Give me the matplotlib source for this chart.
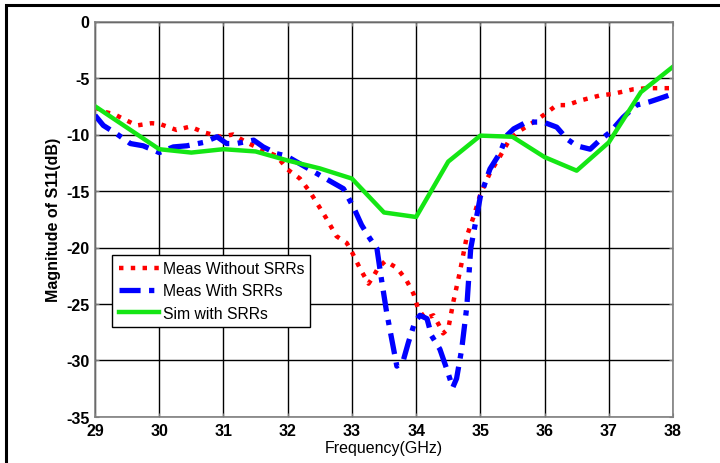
import matplotlib
matplotlib.use("Agg")
import matplotlib.pyplot as plt
from matplotlib.patches import Rectangle

plt.rcParams["axes.unicode_minus"] = False

# S11 magnitude (dB) vs frequency (GHz)
freq_meas_wo = [29.0, 29.15, 29.3, 29.4, 29.65, 29.88, 30.0, 30.27, 30.48, 30.69,
                30.95, 31.15, 31.36, 31.62, 31.83, 32.0, 32.19, 32.35, 32.6, 32.76,
                32.92, 33.0, 33.13, 33.26, 33.34, 33.41, 33.52, 33.7, 33.85, 33.96,
                34.03, 34.14, 34.27, 34.35, 34.42, 34.5, 34.58, 34.68, 34.79, 34.9,
                35.0, 35.15, 35.31, 35.46, 35.62, 35.83, 35.98, 36.19, 36.35, 36.55,
                36.86, 37.07, 37.38, 37.6, 37.8, 38.0]
s11_meas_wo = [-7.6, -8.0, -8.2, -8.5, -9.2, -9.0, -9.05, -9.6, -9.3, -9.8,
               -10.2, -10.0, -10.7, -11.4, -11.9, -13.1, -13.9, -15.1, -17.4, -19.0,
               -19.6, -20.4, -21.9, -23.2, -22.5, -21.8, -21.2, -21.8, -22.9, -24.1,
               -25.4, -26.3, -26.0, -26.8, -27.6, -27.2, -24.8, -22.2, -19.0, -17.2,
               -15.3, -13.4, -11.9, -10.4, -9.65, -8.9, -8.3, -7.4, -7.4, -7.0,
               -6.55, -6.4, -6.0, -5.9, -5.9, -5.9]

freq_meas_w = [29.0, 29.13, 29.34, 29.55, 29.75, 30.0, 30.22, 30.43, 30.69, 30.9,
               31.05, 31.2, 31.47, 31.62, 31.83, 31.98, 32.24, 32.56, 32.87, 33.03,
               33.15, 33.28, 33.39, 33.46, 33.54, 33.62, 33.7, 33.8, 33.88, 33.98,
               34.06, 34.17, 34.24, 34.37, 34.48, 34.57, 34.63, 34.71, 34.79, 34.85,
               35.0, 35.15, 35.31, 35.41, 35.52, 35.72, 35.98, 36.19, 36.35, 36.5,
               36.71, 36.86, 37.02, 37.22, 37.43, 37.64, 37.85, 38.0]
s11_meas_w = [-8.3, -9.2, -9.95, -10.8, -11.0, -11.6, -11.1, -11.0, -10.7, -10.2,
              -10.8, -10.8, -10.5, -11.1, -11.7, -11.9, -12.75, -13.8, -14.8, -16.5,
              -18.0, -19.2, -20.1, -22.8, -25.7, -28.1, -30.5, -30.0, -28.4, -26.6,
              -26.0, -26.3, -27.8, -29.0, -30.8, -32.4, -31.6, -29.0, -25.2, -20.1,
              -15.5, -13.05, -11.6, -10.1, -9.5, -8.9, -8.9, -9.35, -10.4, -11.0,
              -11.3, -10.5, -9.8, -8.5, -7.4, -7.1, -6.7, -6.4]

freq_sim = [29.0, 29.5, 30.0, 30.5, 31.0, 31.5, 32.0, 32.5, 33.0, 33.5,
            34.0, 34.5, 35.0, 35.5, 36.0, 36.5, 37.0, 37.5, 38.0]
s11_sim = [-7.5, -9.4, -11.3, -11.6, -11.3, -11.5, -12.3, -13.0, -13.9, -16.9,
           -17.3, -12.4, -10.1, -10.2, -12.0, -13.2, -10.7, -6.25, -4.0]

legend_labels = ["Meas Without SRRs", "Meas With SRRs", "Sim with SRRs"]

fig = plt.figure(figsize=(7.2, 4.64), dpi=100)
ax = fig.add_axes([95 / 720, 1 - 418 / 464, 578 / 720, 395.5 / 464])

ax.plot(freq_meas_wo, s11_meas_wo, color="#ff0000", linestyle=":", lw=3.2,
        label=legend_labels[0])
ax.plot(freq_meas_w, s11_meas_w, color="#0000ff", linestyle="-.", lw=3.8,
        dashes=(4, 1.6, 1, 1.6), label=legend_labels[1])
ax.plot(freq_sim, s11_sim, color="#14e614", linestyle="-", lw=3.2,
        label=legend_labels[2])

ax.set_xlim(29, 38)
ax.set_ylim(-35, 0)
ax.set_xticks(range(29, 39))
ax.set_yticks(range(-35, 1, 5))
ax.grid(True, color="black", linewidth=1.0, linestyle="-")
ax.tick_params(direction="in", top=True, right=True, length=3, width=0.8,
               colors="#777777", labelcolor="black", pad=4)
for lbl in ax.get_xticklabels() + ax.get_yticklabels():
    lbl.set_fontfamily("Liberation Sans")
    lbl.set_fontweight("bold")
    lbl.set_fontsize(11.5)
for sp in ax.spines.values():
    sp.set_color("#808080")
    sp.set_linewidth(1.2)

ax.set_xlabel("Frequency(GHz)", fontsize=11.5, family="Liberation Sans",
              labelpad=2)
ax.set_ylabel("Magnitude of S11(dB)", fontsize=11.5, family="Liberation Sans",
              fontweight="bold", labelpad=4)

leg = ax.legend(loc="lower left", bbox_to_anchor=(0.03, 0.228), borderaxespad=0,
                fancybox=False, framealpha=1, edgecolor="black",
                prop={"family": "Liberation Sans", "size": 11.3},
                handlelength=2.6, handletextpad=0.2, labelspacing=0.45,
                borderpad=0.4)
leg.get_frame().set_linewidth(1.0)

# outer frame: only its top and left edges fall inside the figure
fig.add_artist(Rectangle((6 / 720, -0.2), 1.5, 1.2 - 6 / 464, fill=False,
                         edgecolor="black", lw=2.2, transform=fig.transFigure))

fig.savefig("out.png", dpi=100, facecolor="white")
